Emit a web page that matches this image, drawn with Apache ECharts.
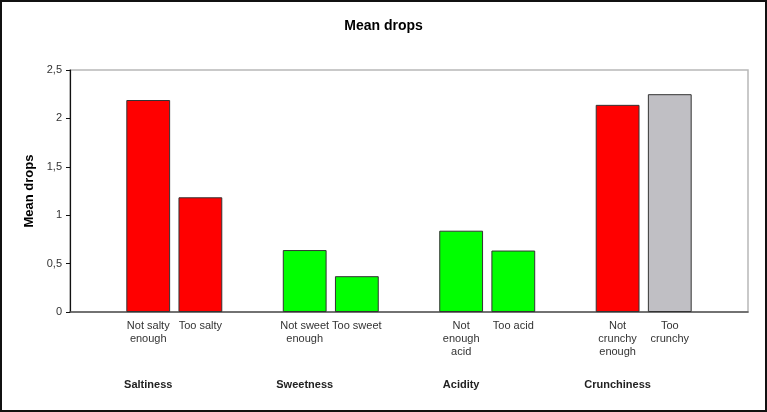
<!DOCTYPE html>
<html>
<head>
<meta charset="utf-8">
<script src="https://cdn.jsdelivr.net/npm/echarts@6/dist/echarts.min.js"></script>
<style>
  html, body { margin: 0; padding: 0; background: #fff; }
  #frame { width: 767px; height: 412px; box-sizing: border-box; border: 2px solid #111; background: #fff; }
  #chart { width: 763px; height: 408px; }
</style>
</head>
<body>
<div id="frame"><div id="chart"></div></div>
<script>
const chartTitle = 'Mean drops';
const yAxisTitle = 'Mean drops';
const groups = ['Saltiness', 'Sweetness', 'Acidity', 'Crunchiness'];
const categories = ['Not salty\nenough', 'Too salty', 'Not sweet\nenough', 'Too sweet',
                    'Not\nenough\nacid', 'Too acid', 'Not\ncrunchy\nenough', 'Too\ncrunchy'];
const categoryGroup = [0, 0, 1, 1, 2, 2, 3, 3];
const meanDrops = [2.19, 1.185, 0.64, 0.37, 0.84, 0.635, 2.14, 2.25];
const barColors = ['#FF0000', '#FF0000', '#00FF00', '#00FF00', '#00FF00', '#00FF00', '#FF0000', '#C0BFC4'];
const yTicks = [0, 0.5, 1, 1.5, 2, 2.5];

// Build axis slots: an empty slot before each group and one at the end
const slotLabels = [];
const slotGroupLabels = [];
const slotValues = [];
const slotColors = [];
groups.forEach(function (g, gi) {
  slotLabels.push(''); slotGroupLabels.push(''); slotValues.push(null); slotColors.push(null);
  let first = true;
  categories.forEach(function (c, ci) {
    if (categoryGroup[ci] !== gi) return;
    slotLabels.push(c);
    slotGroupLabels.push(first ? g : '');
    first = false;
    slotValues.push(meanDrops[ci]);
    slotColors.push(barColors[ci]);
  });
});
slotLabels.push(''); slotGroupLabels.push(''); slotValues.push(null); slotColors.push(null);

const chart = echarts.init(document.getElementById('chart'), null, { renderer: 'canvas' });
chart.setOption({
  animation: false,
  backgroundColor: '#fff',
  textStyle: { fontFamily: 'Liberation Sans, Arial, sans-serif' },
  title: {
    text: chartTitle,
    left: 'center',
    top: 12,
    textStyle: { fontSize: 14, fontWeight: 'bold', color: '#000', fontFamily: 'Liberation Sans, Arial, sans-serif' }
  },
  grid: {
    left: 68, right: 17, top: 68, bottom: 98,
    show: true, borderColor: '#b8b8b8', borderWidth: 1.5, backgroundColor: 'transparent'
  },
  xAxis: [{
    type: 'category',
    data: slotLabels,
    position: 'bottom',
    axisLine: { lineStyle: { color: '#555', width: 1.5 } },
    axisTick: { show: false },
    axisLabel: { interval: 0, color: '#333', fontSize: 11, lineHeight: 13, margin: 7 },
    splitLine: { show: false }
  }, {
    type: 'category',
    data: slotGroupLabels,
    position: 'bottom',
    offset: 61,
    axisLine: { show: false },
    axisTick: { show: false },
    axisLabel: { interval: 0, color: '#222', fontSize: 11, fontWeight: 'bold', margin: 6 },
    splitLine: { show: false }
  }],
  yAxis: {
    type: 'value',
    min: yTicks[0],
    max: yTicks[yTicks.length - 1],
    interval: 0.5,
    name: yAxisTitle,
    nameLocation: 'middle',
    nameGap: 32,
    nameTextStyle: { fontSize: 13, fontWeight: 'bold', color: '#000' },
    axisLine: { show: true, lineStyle: { color: '#111', width: 1.2 } },
    axisTick: { show: true, length: 4, lineStyle: { color: '#111' } },
    axisLabel: {
      color: '#333', fontSize: 11, margin: 8,
      formatter: function (v) { return String(v).replace('.', ','); }
    },
    splitLine: { show: false }
  },
  series: [{
    type: 'bar',
    xAxisIndex: 0,
    data: slotValues,
    barWidth: '84%',
    itemStyle: {
      color: function (p) { return slotColors[p.dataIndex] || '#ccc'; },
      borderColor: '#333',
      borderWidth: 1
    }
  }]
});
</script>
</body>
</html>
